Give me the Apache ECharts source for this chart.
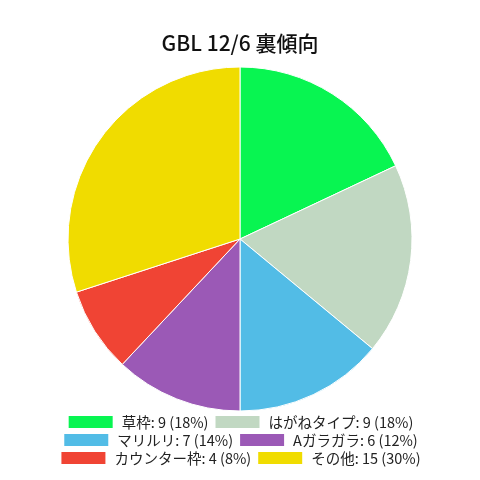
<!DOCTYPE html>
<html><head><meta charset="utf-8">
<script src="https://cdn.jsdelivr.net/npm/echarts@6/dist/echarts.min.js"></script>
<style>html,body{margin:0;padding:0;background:#fff}#c{width:480px;height:480px}</style>
</head><body><div id="c"></div>
<script>
const titleText = 'GBL 12/6 裏傾向';
const categories = ['草枠', 'はがねタイプ', 'マリルリ', 'Aガラガラ', 'カウンター枠', 'その他'];
const values = [9, 9, 7, 6, 4, 15];
const colors = ['#08f551', '#c1d8c2', '#52bce6', '#9b59b6', '#f04434', '#f0dc00'];

const total = values.reduce((a, b) => a + b, 0);
const labelOf = {};
categories.forEach((c, i) => {
  labelOf[c] = c + ': ' + values[i] + ' (' + Math.round(values[i] / total * 100) + '%)';
});
const font = '"Noto Sans CJK JP", "Noto Sans", sans-serif';
const rows = [[0, 1], [2, 3], [4, 5]];
const rowCenters = [422, 440, 458];
const legends = rows.map((r, k) => ({
  data: r.map(i => categories[i]),
  left: 'center',
  top: rowCenters[k] - 9,
  orient: 'horizontal',
  itemWidth: 46,
  itemHeight: 14,
  itemGap: 5,
  icon: 'rect',
  selectedMode: false,
  formatter: name => labelOf[name],
  textStyle: { fontSize: 14.5, color: '#222', fontFamily: font, padding: [0, 0, 0, 3], lineHeight: 18 },
  padding: 0
}));

const chart = echarts.init(document.getElementById('c'));
chart.setOption({
  animation: false,
  color: colors,
  title: {
    text: titleText, left: 'center', top: 28,
    textStyle: { fontSize: 21, fontWeight: 500, color: '#111', fontFamily: font }
  },
  legend: legends,
  series: [{
    type: 'pie',
    center: [240, 239],
    radius: [0, 172],
    startAngle: 90,
    clockwise: true,
    label: { show: false },
    labelLine: { show: false },
    itemStyle: { borderColor: '#fff', borderWidth: 1 },
    emphasis: { disabled: true },
    data: categories.map((c, i) => ({ name: c, value: values[i] }))
  }]
});
</script></body></html>
